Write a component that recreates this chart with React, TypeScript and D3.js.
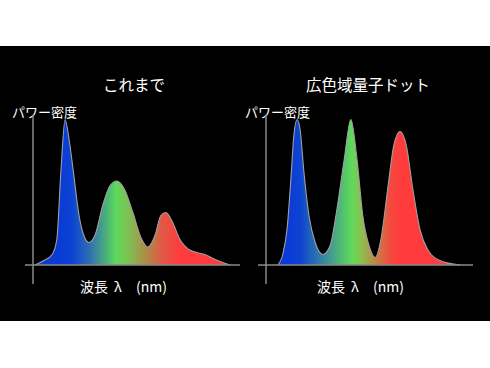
import React from 'react';
import * as d3 from 'd3';

const W = 490;
const H = 368;

const panelTitles = ['これまで', '広色域量子ドット'];
const yLabel = 'パワー密度';
const xLabelParts = ['波長', 'λ', '(nm)'];

// conventional white LED spectrum (nm, relative power)
const wavelengthsBefore = [384, 401, 417, 426, 434, 442, 450, 457, 469, 479, 488, 500, 515, 529, 542, 556, 573, 589, 602, 616, 627, 637, 649, 664, 683, 712, 737, 761];
const powerBefore = [0, 3, 7, 17, 63, 97, 83, 65, 33, 19, 15, 20, 40, 53, 56, 51, 35, 18, 12, 20, 33, 35, 29, 17, 10, 7, 3, 0];

// quantum dot spectrum
const wavelengthsQD = [403, 413, 421, 428, 434, 440, 446, 453, 463, 475, 490, 504, 517, 531, 544, 556, 567, 579, 591, 602, 616, 627, 639, 651, 664, 678, 693, 716, 755];
const powerQD = [0, 8, 25, 57, 87, 97, 90, 63, 33, 15, 7, 13, 37, 70, 97, 70, 33, 13, 5, 17, 53, 80, 89, 80, 50, 23, 10, 3, 0];

// gradient colour stops (nm -> colour)
const stopsBefore = [
  [430, '#0b3bd6'], [455, '#0c42d2'], [490, '#2f6fb0'], [540, '#5dd85b'], [565, '#7fc052'], [600, '#b08848'], [630, '#e25846'], [665, '#ff3b3b']
];
const stopsQD = [
  [425, '#0b3bd6'], [448, '#0e45d0'], [490, '#3785a0'], [545, '#5fd95b'], [565, '#8cc04e'], [590, '#c08846'], [620, '#f24a40'], [640, '#ff3b3b']
];

const panels = [
  { title: panelTitles[0], wl: wavelengthsBefore, pw: powerBefore, stops: stopsBefore, x0: 33, cx: 134, lx: 80 },
  { title: panelTitles[1], wl: wavelengthsQD, pw: powerQD, stops: stopsQD, x0: 266, cx: 368, lx: 317 }
];

const font = '"Noto Sans CJK JP", "Noto Sans", sans-serif';
const partOffsets = [0, 34, 56];

const Panel = ({ p, i }) => {
  const x = d3.scaleLinear().domain([380, 780]).range([p.x0, p.x0 + 207]);
  const y = d3.scaleLinear().domain([0, 100]).range([265, 115]);
  const pts = p.wl.map((w, k) => [w, p.pw[k]]);
  const area = d3.area().x(d => x(d[0])).y0(y(0)).y1(d => y(d[1])).curve(d3.curveMonotoneX);
  const line = d3.line().x(d => x(d[0])).y(d => y(d[1])).curve(d3.curveMonotoneX);
  const gid = 'spec' + i;
  const [xa, xb] = x.range();
  return (
    <g>
      <defs>
        <linearGradient id={gid} gradientUnits="userSpaceOnUse" x1={xa} x2={xb} y1={0} y2={0}>
          {p.stops.map(([w, c], k) => (
            <stop key={k} offset={(x(w) - xa) / (xb - xa)} stopColor={c} />
          ))}
        </linearGradient>
      </defs>
      <text x={p.cx} y={91} fill="#fff" fontSize={15.5} textAnchor="middle" fontFamily={font}>{p.title}</text>
      <text x={p.x0 - 21} y={117} fill="#fff" fontSize={13} fontFamily={font}>{yLabel}</text>
      <path d={area(pts)} fill={`url(#${gid})`} />
      <path d={line(pts)} fill="none" stroke="#a0a0a0" strokeWidth={1.1} />
      <line x1={xa - 8} x2={xb} y1={y(0)} y2={y(0)} stroke="#8a8a8a" strokeWidth={1.5} />
      <line x1={xa} x2={xa} y1={y(100)} y2={y(0) + 19} stroke="#8a8a8a" strokeWidth={1.5} />
      <text y={292} fill="#fff" fontSize={14} fontFamily={font}>
        {xLabelParts.map((s, k) => (
          <tspan key={k} x={p.lx + partOffsets[k]}>{s}</tspan>
        ))}
      </text>
    </g>
  );
};

export default function App() {
  return (
    <svg width={W} height={H} style={{ position: 'absolute', left: 0, top: 0, background: '#fff' }}>
      <rect x={0} y={46} width={W} height={275} fill="#000" />
      {panels.map((p, i) => <Panel key={i} p={p} i={i} />)}
    </svg>
  );
}
